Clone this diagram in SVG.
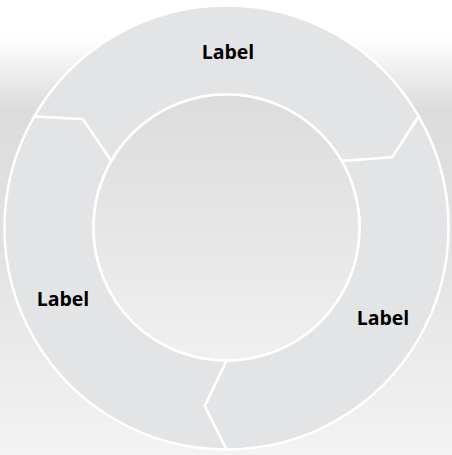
<svg xmlns="http://www.w3.org/2000/svg" width="452" height="455" viewBox="0 0 452 455">
  <defs>
    <linearGradient id="bg" x1="0" y1="0" x2="0" y2="1">
      <stop offset="0" stop-color="#ffffff"/>
      <stop offset="0.08" stop-color="#ffffff"/>
      <stop offset="0.24" stop-color="#dcdcdc"/>
      <stop offset="0.55" stop-color="#e2e2e2"/>
      <stop offset="1" stop-color="#f3f3f3"/>
    </linearGradient>
    <linearGradient id="hub" x1="0" y1="0" x2="0" y2="1">
      <stop offset="0" stop-color="#dcdcdc"/>
      <stop offset="1" stop-color="#f0f0f0"/>
    </linearGradient>
  </defs>
  <style>
    .seg { fill: #e3e4e5; stroke: #ffffff; stroke-width: 2.5; stroke-linejoin: miter; }
    .hub { fill: url(#hub); stroke: #ffffff; stroke-width: 2.5; }
    .lbl { font-family: "Open Sans", "Liberation Sans", sans-serif; font-weight: bold; font-size: 19.5px; fill: #000000; text-anchor: middle; }
  </style>
  <rect x="0" y="0" width="452" height="455" fill="url(#bg)"/>
  <g id="segment-top">
    <path class="seg" d="M34.2,116.5 A222,222 0 0 1 418.8,116.5 L392.2,157.2 L341.7,161 A133,133 0 0 0 111.3,161 L82.8,119.2 Z"/>
    <text class="lbl" x="228" y="59">Label</text>
  </g>
  <g id="segment-right">
    <path class="seg" d="M418.8,116.5 A222,222 0 0 1 226.5,449.5 L204.6,406.1 L226.5,360.5 A133,133 0 0 0 341.7,161 L392.2,157.2 Z"/>
    <text class="lbl" x="383" y="325">Label</text>
  </g>
  <g id="segment-left">
    <path class="seg" d="M226.5,449.5 A222,222 0 0 1 34.2,116.5 L82.8,119.2 L111.3,161 A133,133 0 0 0 226.5,360.5 L204.6,406.1 Z"/>
    <text class="lbl" x="63" y="306">Label</text>
  </g>
  <g id="hub-circle">
    <circle class="hub" cx="226.5" cy="227.5" r="133"/>
  </g>
  <g id="connectors"></g>
</svg>
